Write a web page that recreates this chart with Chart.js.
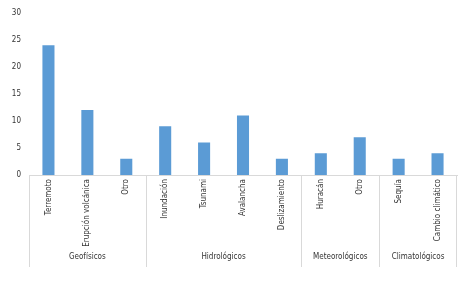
<!DOCTYPE html>
<html>
<head>
<meta charset="utf-8">
<script src="https://cdn.jsdelivr.net/npm/chart.js@4"></script>
<style>
  html, body { margin: 0; padding: 0; background: #fff; }
  #wrap { width: 461px; height: 299px; }
</style>
</head>
<body>
<div id="wrap"><canvas id="chart"></canvas></div>
<script>
// data
var categories = ['Terremoto', 'Erupción volcánica', 'Otro', 'Inundación', 'Tsunami', 'Avalancha',
    'Deslizamiento', 'Huracán', 'Otro', 'Sequía', 'Cambio climático'];
var values = [24, 12, 3, 9, 6, 11, 3, 4, 7, 3, 4];
var groupNames = ['Geofísicos', 'Hidrológicos', 'Meteorológicos', 'Climatológicos'];
var groupSizes = [3, 4, 2, 2];
var yTicks = [0, 5, 10, 15, 20, 25, 30];

var FONT = "'Liberation Sans Narrow', 'DejaVu Sans Condensed', sans-serif";
var TEXT = '#333333';
var LINE = '#d9d9d9';

// draws the group separators and group names under the category labels
var groupPlugin = {
    id: 'groups',
    afterDraw: function (chart) {
        var ctx = chart.ctx;
        var x = chart.scales.x;
        var top = x.top;
        var bottom = top + 92;
        var half = (x.getPixelForValue(1) - x.getPixelForValue(0)) / 2;
        ctx.save();
        ctx.strokeStyle = LINE;
        ctx.lineWidth = 1;
        ctx.fillStyle = TEXT;
        ctx.font = '8px ' + FONT;
        ctx.textAlign = 'center';
        ctx.textBaseline = 'middle';
        var start = 0;
        for (var g = 0; g < groupSizes.length; g++) {
            var left = x.getPixelForValue(start) - half;
            var right = x.getPixelForValue(start + groupSizes[g] - 1) + half;
            var lx = Math.round(left) + 0.5;
            ctx.beginPath();
            ctx.moveTo(lx, top);
            ctx.lineTo(lx, bottom);
            ctx.stroke();
            if (g === groupSizes.length - 1) {
                var rx = Math.round(right) - 0.5;
                ctx.beginPath();
                ctx.moveTo(rx, top);
                ctx.lineTo(rx, bottom);
                ctx.stroke();
            }
            ctx.fillText(groupNames[g], (left + right) / 2, top + 82);
            start += groupSizes[g];
        }
        ctx.restore();
    }
};

var ctx = document.getElementById('chart').getContext('2d');
new Chart(ctx, {
    type: 'bar',
    data: {
        labels: categories,
        datasets: [{
            data: values,
            backgroundColor: '#5b9bd5',
            borderColor: '#5b9bd5',
            borderWidth: 0,
            barPercentage: 0.62,
            categoryPercentage: 0.5
        }]
    },
    options: {
        responsive: true,
        maintainAspectRatio: false,
        animation: false,
        layout: { padding: { top: 12, right: 4, bottom: 32, left: 8 } },
        plugins: {
            legend: { display: false },
            tooltip: { enabled: false }
        },
        scales: {
            x: {
                grid: { display: false, drawTicks: false },
                border: { color: LINE, width: 1 },
                ticks: {
                    color: TEXT,
                    font: { family: FONT, size: 8 },
                    minRotation: 90,
                    maxRotation: 90,
                    padding: 4,
                    autoSkip: false
                },
                afterFit: function (scale) { scale.height = 92; }
            },
            y: {
                min: 0,
                max: 30,
                afterBuildTicks: function (scale) {
                    scale.ticks = yTicks.map(function (v) { return { value: v }; });
                },
                grid: { display: false, drawTicks: false },
                border: { display: false },
                ticks: {
                    color: TEXT,
                    font: { family: FONT, size: 8 },
                    padding: 8
                },
                afterFit: function (scale) { scale.width = 21; }
            }
        }
    },
    plugins: [groupPlugin]
});
</script>
</body>
</html>
